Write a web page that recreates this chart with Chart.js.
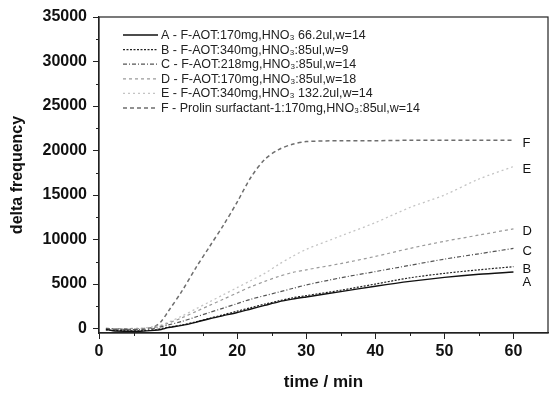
<!DOCTYPE html>
<html>
<head>
<meta charset="utf-8">
<script src="https://cdn.jsdelivr.net/npm/chart.js@4/dist/chart.umd.min.js"></script>
<style>
  html, body { margin: 0; padding: 0; background: #fff; }
  #wrap { width: 549px; height: 393px; }
</style>
</head>
<body>
<div id="wrap"><canvas id="chart" width="549" height="393"></canvas></div>
<script>
// time in minutes
const times = [1, 2, 4, 6, 8, 9, 10, 12, 14, 16, 18, 20, 22, 24, 26, 28, 30, 35, 40, 45, 50, 55, 60];

const seriesA = [-100, -250, -300, -300, -200, -100, 100, 350, 700, 1100, 1450, 1800, 2200, 2600, 3000, 3300, 3550, 4150, 4750, 5300, 5750, 6100, 6350];
const seriesB = [-150, -200, -250, -250, -150, 0, 150, 400, 750, 1150, 1550, 1950, 2350, 2750, 3100, 3450, 3700, 4300, 5000, 5700, 6200, 6600, 6950];
const seriesC = [0, -50, -100, -100, 0, 200, 400, 800, 1300, 1800, 2300, 2800, 3300, 3700, 4100, 4500, 4900, 5700, 6400, 7100, 7800, 8400, 9000];
const seriesD = [50, 0, 0, 0, 100, 300, 600, 1200, 1900, 2600, 3300, 4000, 4700, 5300, 5850, 6300, 6600, 7300, 8100, 9000, 9800, 10500, 11200];
const seriesE = [0, 0, 0, 50, 200, 400, 700, 1400, 2200, 3000, 3800, 4600, 5400, 6200, 7200, 8100, 8900, 10400, 11900, 13600, 15000, 16800, 18200];
const seriesF = [-50, -100, -100, -50, 200, 800, 1900, 4200, 6800, 9200, 11600, 14200, 17000, 19000, 20100, 20700, 21000, 21100, 21100, 21150, 21150, 21150, 21150];

const shortNames = ['A', 'B', 'C', 'D', 'E', 'F'];
const legendNames = [
  'A - F-AOT:170mg,HNO\u2083 66.2ul,w=14',
  'B - F-AOT:340mg,HNO\u2083:85ul,w=9',
  'C - F-AOT:218mg,HNO\u2083:85ul,w=14',
  'D - F-AOT:170mg,HNO\u2083:85ul,w=18',
  'E - F-AOT:340mg,HNO\u2083 132.2ul,w=14',
  'F - Prolin surfactant-1:170mg,HNO\u2083:85ul,w=14'
];

const yTicks = [0, 5000, 10000, 15000, 20000, 25000, 30000, 35000];
const xTicks = [0, 10, 20, 30, 40, 50, 60];

const FONT = '"Liberation Sans", Arial, sans-serif';

const styles = [
  { borderColor: '#111', borderWidth: 1.4, borderDash: [] },
  { borderColor: '#222', borderWidth: 1.2, borderDash: [2, 1.5] },
  { borderColor: '#555', borderWidth: 1.2, borderDash: [4, 2, 1, 2] },
  { borderColor: '#9a9a9a', borderWidth: 1.2, borderDash: [3, 3] },
  { borderColor: '#c4c4c4', borderWidth: 1.3, borderDash: [2, 3] },
  { borderColor: '#6e6e6e', borderWidth: 1.5, borderDash: [4, 3] }
];

const allSeries = [seriesA, seriesB, seriesC, seriesD, seriesE, seriesF];

const datasets = allSeries.map((vals, i) => ({
  label: legendNames[i],
  data: vals.map((v, k) => ({ x: times[k], y: v })),
  borderColor: styles[i].borderColor,
  borderWidth: styles[i].borderWidth,
  borderDash: styles[i].borderDash,
  pointRadius: 0,
  tension: 0.3,
  fill: false
}));

const decorPlugin = {
  id: 'decor',
  afterDraw(chart) {
    const { ctx, chartArea: a, scales: { x, y } } = chart;
    ctx.save();

    // frame
    ctx.strokeStyle = '#222';
    ctx.lineWidth = 1.2;
    ctx.setLineDash([]);
    ctx.strokeRect(a.left, a.top, a.right - a.left, a.bottom - a.top);

    // minor ticks
    ctx.lineWidth = 1;
    ctx.beginPath();
    for (let v = 5; v < 65; v += 10) {
      const px = Math.round(x.getPixelForValue(v)) + 0.5;
      ctx.moveTo(px, a.bottom);
      ctx.lineTo(px, a.bottom + 3);
    }
    for (let v = 2500; v < 35000; v += 5000) {
      const py = Math.round(y.getPixelForValue(v)) + 0.5;
      ctx.moveTo(a.left, py);
      ctx.lineTo(a.left - 3, py);
    }
    ctx.stroke();

    // end labels
    const ends = allSeries.map((vals, i) => ({
      name: shortNames[i],
      py: y.getPixelForValue(vals[vals.length - 1])
    })).sort((p, q) => p.py - q.py);
    for (let i = 1; i < ends.length; i++) {
      if (ends[i].py - ends[i - 1].py < 13) ends[i].py = ends[i - 1].py + 13;
    }
    ctx.fillStyle = '#111';
    ctx.font = '13px ' + FONT;
    ctx.textBaseline = 'middle';
    ctx.textAlign = 'left';
    const lx = x.getPixelForValue(60) + 9;
    ends.forEach(e => ctx.fillText(e.name, lx, e.py + 3));

    // legend
    ctx.font = '12.5px ' + FONT;
    chart.data.datasets.forEach((ds, i) => {
      const ry = 35 + i * 14.6;
      ctx.strokeStyle = ds.borderColor;
      ctx.lineWidth = ds.borderWidth;
      ctx.setLineDash(ds.borderDash);
      ctx.beginPath();
      ctx.moveTo(123, ry);
      ctx.lineTo(158, ry);
      ctx.stroke();
      ctx.fillStyle = '#222';
      ctx.fillText(ds.label, 161, ry + 0.5);
    });

    ctx.restore();
  }
};

new Chart(document.getElementById('chart'), {
  type: 'line',
  data: { datasets },
  options: {
    responsive: false,
    animation: false,
    layout: { padding: { top: 17, right: 1, left: 0, bottom: 0 } },
    plugins: { legend: { display: false }, tooltip: { enabled: false } },
    scales: {
      x: {
        type: 'linear',
        min: 0,
        max: 65,
        afterBuildTicks: s => { s.ticks = xTicks.map(v => ({ value: v })); },
        afterFit: s => { s.height = 60; },
        grid: { drawOnChartArea: false, tickLength: 6, color: '#222' },
        border: { display: true, color: '#222', width: 1.2 },
        ticks: { color: '#111', font: { family: FONT, size: 16, weight: 'bold' }, padding: 3, maxRotation: 0 },
        title: { display: true, text: 'time / min', color: '#111', font: { family: FONT, size: 17, weight: 'bold' }, padding: { top: 0, bottom: 0 } }
      },
      y: {
        type: 'linear',
        min: -500,
        max: 35000,
        afterBuildTicks: s => { s.ticks = yTicks.map(v => ({ value: v })); },
        afterFit: s => { s.width = 99; },
        grid: { drawOnChartArea: false, tickLength: 6, color: '#222' },
        border: { display: true, color: '#222', width: 1.2 },
        ticks: { color: '#111', font: { family: FONT, size: 16, weight: 'bold' }, padding: 6, callback: v => String(v) },
        title: { display: true, text: 'delta frequency', color: '#111', font: { family: FONT, size: 16, weight: 'bold' }, padding: { top: 8, bottom: 0 } }
      }
    }
  },
  plugins: [decorPlugin]
});
</script>
</body>
</html>
